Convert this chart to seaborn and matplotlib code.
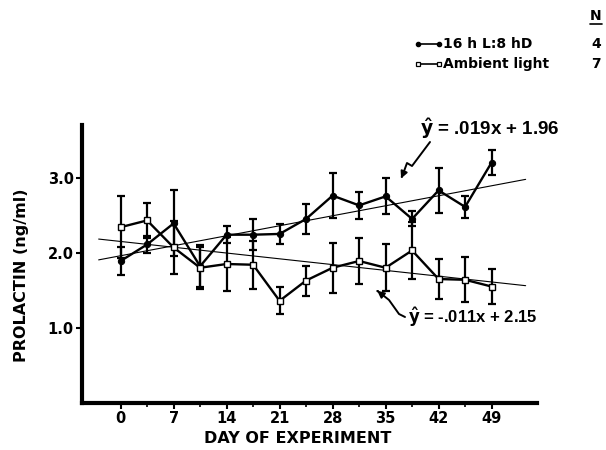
import numpy as np
import pandas as pd
import seaborn as sns
import matplotlib
matplotlib.use("Agg")
import matplotlib.pyplot as plt
from matplotlib.lines import Line2D
from matplotlib.patches import FancyArrowPatch

# ---- data ----
days = [0, 3.5, 7, 10.5, 14, 17.5, 21, 24.5, 28, 31.5, 35, 38.5, 42, 45.5, 49]
lightdark_mean = [1.89, 2.11, 2.39, 1.82, 2.24, 2.24, 2.25, 2.45, 2.76, 2.63, 2.75, 2.45, 2.83, 2.61, 3.20]
lightdark_sem = [0.18, 0.11, 0.44, 0.28, 0.11, 0.21, 0.13, 0.20, 0.30, 0.18, 0.24, 0.10, 0.30, 0.15, 0.17]
ambient_mean = [2.34, 2.43, 2.07, 1.80, 1.85, 1.84, 1.36, 1.63, 1.80, 1.89, 1.80, 2.03, 1.65, 1.64, 1.55]
ambient_sem = [0.41, 0.23, 0.35, 0.28, 0.36, 0.32, 0.18, 0.20, 0.33, 0.30, 0.31, 0.38, 0.26, 0.30, 0.23]
fit_lightdark = (0.019, 1.96)
fit_ambient = (-0.011, 2.15)
fit_range = [-2.9, 53.5]
x_ticks = [0, 7, 14, 21, 28, 35, 42, 49]
y_ticks = [1.0, 2.0, 3.0]
legend_labels = ["16 h L:8 hD", "Ambient light"]
legend_n = ["4", "7"]

sns.set_theme(style="white")
plt.rcParams['font.family'] = ['DejaVu Sans']
plt.rcParams['font.weight'] = 'bold'
plt.rcParams['text.color'] = 'black'
plt.rcParams['axes.labelcolor'] = 'black'
plt.rcParams['xtick.color'] = 'black'
plt.rcParams['ytick.color'] = 'black'

W, H = 606, 450
def fx_(px):
    return px / W
def fy_(py):
    return 1 - py / H

fig = plt.figure(figsize=(6.06, 4.5), dpi=100)
ax = fig.add_axes([fx_(82), fy_(403), (537 - 82) / W, (403 - 125) / H])

df = pd.DataFrame({"day": days * 2,
                   "mean": lightdark_mean + ambient_mean,
                   "group": [legend_labels[0]] * len(days) + [legend_labels[1]] * len(days)})

# error bars
ax.errorbar(days, lightdark_mean, yerr=lightdark_sem, fmt='none', ecolor='black',
            elinewidth=1.6, capsize=2.6, capthick=1.6, zorder=2)
ax.errorbar(days, ambient_mean, yerr=ambient_sem, fmt='none', ecolor='black',
            elinewidth=1.6, capsize=2.6, capthick=1.6, zorder=2)

# series
sns.lineplot(data=df[df.group == legend_labels[0]], x="day", y="mean", ax=ax,
             color="black", lw=1.7, marker="o", markersize=4.5, markerfacecolor="black",
             markeredgecolor="black", zorder=3, legend=False)
sns.lineplot(data=df[df.group == legend_labels[1]], x="day", y="mean", ax=ax,
             color="black", lw=1.7, marker="s", markersize=5, markerfacecolor="white",
             markeredgecolor="black", markeredgewidth=1.0, zorder=4, legend=False)

# regression lines
fx = np.array(fit_range)
sns.lineplot(x=fx, y=fit_lightdark[0] * fx + fit_lightdark[1], ax=ax, color="black", lw=0.8, zorder=1)
sns.lineplot(x=fx, y=fit_ambient[0] * fx + fit_ambient[1], ax=ax, color="black", lw=0.8, zorder=1)

ax.set_xlim(-5.1, 55.0)
ax.set_ylim(0, 3.7)
ax.set_xticks(x_ticks)
ax.set_xticks(np.arange(3.5, 50, 7), minor=True)
ax.set_yticks(y_ticks)
ax.set_yticklabels([f"{v:.1f}" for v in y_ticks])
ax.tick_params(axis='both', which='major', direction='out', length=4, width=1.5,
               labelsize=10.5, colors='black', bottom=True, left=True, pad=2)
ax.tick_params(axis='x', which='minor', direction='out', length=3, width=1.2, bottom=True)
for lab in ax.get_xticklabels() + ax.get_yticklabels():
    lab.set_fontweight('bold')
for s in ["top", "right"]:
    ax.spines[s].set_visible(False)
for s in ["left", "bottom"]:
    ax.spines[s].set_color("black")
    ax.spines[s].set_linewidth(3)
ax.set_xlabel("DAY OF EXPERIMENT", fontsize=11.5, fontweight='bold', color='black')
ax.set_ylabel("PROLACTIN (ng/ml)", fontsize=11.5, fontweight='bold', color='black')
ax.xaxis.set_label_coords((298 - 82) / 455, -(431 - 403) / 278)
ax.yaxis.set_label_coords(-(82 - 29) / 455, (403 - 275) / 278)

# equation annotations
eqfont = ['Liberation Sans', 'DejaVu Sans']
fig.text(fx_(420), fy_(135), r"$\hat{\mathbf{y}}$" + " = .019x + 1.96", family=eqfont,
         fontsize=13.5, fontweight='bold', ha='left', va='baseline', color='black')
fig.text(fx_(408), fy_(323), r"$\hat{\mathbf{y}}$" + " = -.011x + 2.15", family=eqfont,
         fontsize=12, fontweight='bold', ha='left', va='baseline', color='black')

# lightning-style arrow (upper)
up_x = [430, 412, 407, 403]
up_y = [142, 166, 163, 174]
fig.add_artist(Line2D([fx_(v) for v in up_x], [fy_(v) for v in up_y], color='black', lw=1.4,
                      transform=fig.transFigure))
fig.add_artist(FancyArrowPatch((fx_(403), fy_(174)), (fx_(400), fy_(181)),
               transform=fig.transFigure, arrowstyle='-|>', mutation_scale=10, color='black', lw=1.4))
# wavy arrow (lower)
lo_x = [405, 399, 394, 389, 384, 380]
lo_y = [317, 314, 307, 300, 296, 293]
fig.add_artist(Line2D([fx_(v) for v in lo_x], [fy_(v) for v in lo_y], color='black', lw=1.4,
                      transform=fig.transFigure))
fig.add_artist(FancyArrowPatch((fx_(380), fy_(293)), (fx_(375), fy_(289)),
               transform=fig.transFigure, arrowstyle='-|>', mutation_scale=10, color='black', lw=1.4))

# legend (custom)
row_y = [44, 64]
fig.add_artist(Line2D([fx_(418), fx_(439)], [fy_(row_y[0])] * 2, color='black', lw=1.2,
                      marker='o', markersize=3, transform=fig.transFigure))
fig.add_artist(Line2D([fx_(418), fx_(439)], [fy_(row_y[1])] * 2, color='black', lw=1.2,
                      marker='s', markersize=3.5, markerfacecolor='white', markeredgewidth=0.9,
                      transform=fig.transFigure))
for i in range(2):
    fig.text(fx_(443), fy_(row_y[i]), legend_labels[i], fontsize=10, fontweight='bold',
             va='center', ha='left', color='black')
    fig.text(fx_(596), fy_(row_y[i]), legend_n[i], fontsize=10, fontweight='bold',
             va='center', ha='center', color='black')
fig.text(fx_(596), fy_(16), "N", fontsize=10, fontweight='bold', va='center', ha='center',
         color='black')
fig.add_artist(Line2D([fx_(590), fx_(602)], [fy_(24)] * 2, color='black', lw=1.2,
                      transform=fig.transFigure))

fig.savefig("out.png", dpi=100)
